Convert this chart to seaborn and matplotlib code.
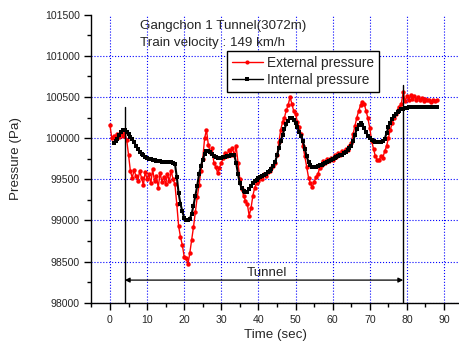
import numpy as np
import pandas as pd
import matplotlib
matplotlib.use("Agg")
import matplotlib.pyplot as plt
import seaborn as sns
from matplotlib.ticker import MultipleLocator
from matplotlib.lines import Line2D

# Internal pressure (cabin), sampled every 0.5 s from t = 1.0 s
t_int_start, t_step = 1.0, 0.5
p_internal = [
    99940, 99960, 99990, 100040, 100080, 100105, 100100, 100080, 100050, 100020,
    99985, 99950, 99910, 99870, 99835, 99810, 99790, 99775, 99762, 99752,
    99744, 99737, 99731, 99726, 99722, 99718, 99715, 99712, 99710, 99708,
    99706, 99705, 99704, 99690, 99530, 99330, 99200, 99110, 99030, 99005,
    99000, 99020, 99080, 99180, 99300, 99420, 99560, 99660, 99740, 99810,
    99845, 99850, 99835, 99805, 99785, 99770, 99760, 99755, 99760, 99770,
    99775, 99780, 99785, 99790, 99800, 99790, 99700, 99560, 99450, 99390,
    99355, 99345, 99350, 99380, 99420, 99450, 99475, 99495, 99510, 99525,
    99540, 99555, 99570, 99585, 99605, 99630, 99660, 99710, 99790, 99880,
    99960, 100040, 100110, 100170, 100215, 100240, 100245, 100225, 100180, 100130,
    100080, 100030, 99960, 99870, 99780, 99710, 99670, 99650, 99645, 99650,
    99660, 99670, 99680, 99690, 99700, 99710, 99720, 99730, 99745, 99760,
    99770, 99780, 99790, 99800, 99815, 99835, 99855, 99880, 99910, 99960,
    100040, 100110, 100160, 100180, 100165, 100120, 100070, 100030, 100000, 99980,
    99965, 99958, 99955, 99955, 99955, 99960, 99990, 100060, 100130, 100190,
    100235, 100270, 100295, 100315, 100335, 100350, 100360, 100368, 100373, 100376,
    100378, 100379, 100380, 100380, 100380, 100380, 100380, 100380, 100380, 100380,
    100380, 100380, 100380, 100380, 100380,
]

# External pressure, sampled every 0.5 s from t = 0.0 s
t_ext_start = 0.0
p_external = [
    100160, 100000, 100030, 100010, 100050, 100020, 100060, 100030, 100070, 99980,
    99800, 99600, 99520, 99610, 99540, 99480, 99600, 99520, 99430, 99590,
    99500, 99560, 99450, 99620, 99480, 99540, 99400, 99580, 99470, 99530,
    99440, 99560, 99480, 99600, 99500, 99440, 99200, 98930, 98800, 98700,
    98560, 98540, 98470, 98600, 98760, 98920, 99100, 99280, 99430, 99600,
    99750, 100000, 100100, 99920, 99830, 99880, 99700, 99650, 99580, 99640,
    99700, 99760, 99820, 99780, 99860, 99800, 99880, 99790, 99900, 99700,
    99500, 99380, 99300, 99240, 99200, 99060, 99150, 99300, 99400, 99450,
    99480, 99520, 99500, 99560, 99540, 99590, 99600, 99640, 99660, 99700,
    99790, 99950, 100100, 100200, 100250, 100340, 100400, 100500, 100420, 100330,
    100290, 100200, 100130, 100050, 99900, 99780, 99650, 99520, 99450, 99410,
    99470, 99530, 99560, 99640, 99680, 99720, 99700, 99750, 99720, 99760,
    99740, 99790, 99770, 99820, 99800, 99850, 99830, 99870, 99860, 99900,
    99940, 100050, 100150, 100250, 100330, 100400, 100440, 100420, 100330, 100240,
    100120, 99970, 99870, 99780, 99740, 99730, 99780, 99760, 99840, 99900,
    100000, 100100, 100180, 100250, 100300, 100340, 100380, 100420, 100560, 100450,
    100510, 100470, 100520, 100480, 100510, 100470, 100500, 100460, 100490, 100450,
    100480, 100460, 100470, 100440, 100470, 100450, 100460,
]

tunnel_entry, tunnel_exit = 4.0, 79.0
entry_top, exit_top = 100380, 100645
arrow_level = 98275

t_int = t_int_start + t_step * np.arange(len(p_internal))
t_ext = t_ext_start + t_step * np.arange(len(p_external))
df_int = pd.DataFrame({"time": t_int, "pressure": p_internal})
df_ext = pd.DataFrame({"time": t_ext, "pressure": p_external})

sns.set_style("ticks")
plt.rcParams["font.family"] = ["Liberation Sans", "DejaVu Sans"]

fig = plt.figure(figsize=(4.6, 3.44), dpi=100)
ax = fig.add_axes([91.4 / 460, 0.120, 1 - 91.4 / 460, 0.837])

sns.lineplot(data=df_ext, x="time", y="pressure", ax=ax, color="red", lw=1.0,
             marker="o", markersize=3.2, markeredgewidth=0)
sns.lineplot(data=df_int, x="time", y="pressure", ax=ax, color="black", lw=1.5,
             marker="s", markersize=3.2, markeredgewidth=0)

# tunnel portals and extent
ax.plot([tunnel_entry, tunnel_entry], [98000, entry_top], color="black", lw=1)
ax.plot([tunnel_exit, tunnel_exit], [98000, exit_top], color="black", lw=1)
ax.annotate("", xy=(tunnel_entry, arrow_level), xytext=(tunnel_exit, arrow_level),
            arrowprops=dict(arrowstyle="<|-|>", color="black", lw=0.9,
                            mutation_scale=7, shrinkA=0, shrinkB=0))
ax.text(42.3, 98328, "Tunnel", ha="center", va="baseline", fontsize=9.6)

ax.text(8.1, 101325, "Gangchon 1 Tunnel(3072m)", ha="left", va="baseline", fontsize=9.6)
ax.text(8.1, 101122, "Train velocity : 149 km/h", ha="left", va="baseline", fontsize=9.6)

ax.set_xlim(-5, 94.3)
ax.set_ylim(98000, 101500)
ax.xaxis.set_major_locator(MultipleLocator(10))
ax.xaxis.set_minor_locator(MultipleLocator(5))
ax.yaxis.set_major_locator(MultipleLocator(500))
ax.yaxis.set_minor_locator(MultipleLocator(250))
ax.tick_params(which="major", length=5, width=1, labelsize=7.6, color="black")
ax.tick_params(which="minor", length=3, width=1, color="black")
ax.grid(True, which="major", color="blue", linestyle=":", lw=0.8)
for s in ["top", "right"]:
    ax.spines[s].set_visible(False)
for s in ["left", "bottom"]:
    ax.spines[s].set_color("black")
    ax.spines[s].set_linewidth(1)

# no grid line along the top edge
fig.canvas.draw()
for val, gl in zip(ax.get_yticks(), ax.yaxis.get_gridlines()):
    if val >= 101500:
        gl.set_visible(False)

ax.set_xlabel("Time (sec)", fontsize=9.6, labelpad=3)
ax.set_ylabel("Pressure (Pa)", fontsize=9.6, labelpad=16)

handles = [
    Line2D([], [], color="red", lw=1, marker="o", markersize=3, markeredgewidth=0),
    Line2D([], [], color="black", lw=1, marker="s", markersize=3, markeredgewidth=0),
]
leg = ax.legend(handles, ["External pressure", "Internal pressure"],
                loc="upper left", bbox_to_anchor=(0.368, 0.873), fontsize=9.8,
                frameon=True, fancybox=False, framealpha=1, edgecolor="black",
                handlelength=2.3, handletextpad=0.3, borderpad=0.35,
                labelspacing=0.2, borderaxespad=0)
leg.get_frame().set_linewidth(1)

fig.savefig("out.png", dpi=100)
